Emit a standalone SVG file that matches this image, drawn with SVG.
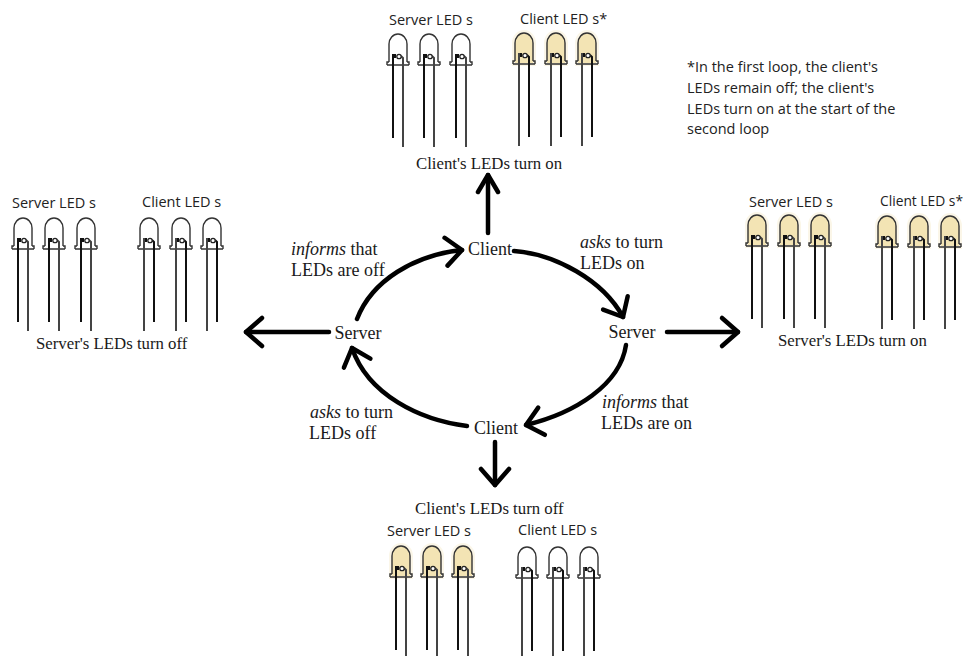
<svg xmlns="http://www.w3.org/2000/svg" width="964" height="656" viewBox="0 0 964 656">
<style>
.t{font-family:"Liberation Serif","Times New Roman",serif;font-size:18px;fill:#1a1a1a}
.s{font-family:"Liberation Serif","Times New Roman",serif;font-size:16.8px;fill:#1a1a1a}
.n{font-family:"Open Sans","Noto Sans",sans-serif;font-size:14.5px;fill:#222}
.a{fill:none;stroke:#000;stroke-width:4.5;stroke-linecap:round;stroke-linejoin:round;marker-end:url(#head)}
.b{fill:none;stroke:#000;stroke-width:4.5;stroke-linecap:round;marker-end:url(#headN)}
.body{fill:none;stroke:#333;stroke-width:1.4}
.lit{fill:#f3e4b4;stroke:none}
.glow{fill:#f3e4b4;opacity:.3;stroke:#f3e4b4;stroke-width:6}
.leg{fill:none;stroke:#111;stroke-width:2}
.leg2{fill:none;stroke:#444;stroke-width:2}
.chip{fill:#fff;stroke:#222;stroke-width:1.3}
</style>
<defs>
<marker id="head" markerUnits="userSpaceOnUse" markerWidth="40" markerHeight="40" refX="20" refY="20" orient="auto" viewBox="0 0 40 40">
<path d="M4 6L20 20L4 34" fill="none" stroke="#000" stroke-width="4.5" stroke-linecap="round" stroke-linejoin="round"/>
</marker>
<marker id="headN" markerUnits="userSpaceOnUse" markerWidth="40" markerHeight="40" refX="20" refY="20" orient="auto" viewBox="0 0 40 40">
<path d="M3 10L20 20L3 30" fill="none" stroke="#000" stroke-width="4.5" stroke-linecap="round" stroke-linejoin="round"/>
</marker>
<g id="dome"><path class="body" d="M-9 28V10A9 10 0 0 1 9 10V28"/><path class="body" d="M-11 31V28H-9M11 31V28H9M-11 31H11"/></g>
<g id="litbase"><path class="glow" d="M-9 30V10A9 10 0 0 1 9 10V30Z"/><path class="lit" d="M-9 30V10A9 10 0 0 1 9 10V30Z"/></g>
<g id="chip"><circle class="chip" cx="1" cy="22.5" r="2.2"/><path class="leg" d="M-3 24V20" stroke-width="1.2"/></g>
<g id="legsA"><path class="leg" d="M-5 104V21H-2"/><path class="leg2" d="M5 113V24L3 22"/><use href="#chip"/></g>
<g id="legsB"><path class="leg2" d="M-5 113V21H-2"/><path class="leg" d="M5 104V24L3 22"/><use href="#chip"/></g>
<g id="offA"><use href="#dome"/><use href="#legsA"/></g>
<g id="offB"><use href="#dome"/><use href="#legsB"/></g>
<g id="onA"><use href="#litbase"/><use href="#dome"/><use href="#legsA"/></g>
<g id="onB"><use href="#litbase"/><use href="#dome"/><use href="#legsB"/></g>
</defs>

<g id="connectors">
<path class="a" d="M514 251C555 254 603 280 623 317"/>
<path class="a" d="M626 345C620 385 575 413 526 425"/>
<path class="a" d="M467 426C420 420 368 395 352 348"/>
<path class="a" d="M357 319C372 280 415 255 462 250"/>
<path class="b" d="M488 233V175"/>
<path class="a" d="M329 332H246"/>
<path class="a" d="M667 332H738"/>
<path class="a" d="M495 442V485"/>
</g>

<g id="node-client-top"><text class="t" x="490" y="255" text-anchor="middle">Client</text></g>
<g id="node-server-right"><text class="t" x="632" y="338" text-anchor="middle">Server</text></g>
<g id="node-client-bottom"><text class="t" x="496" y="434" text-anchor="middle">Client</text></g>
<g id="node-server-left"><text class="t" x="358" y="339" text-anchor="middle">Server</text></g>

<g id="label-asks-on"><text class="t" x="580" y="248"><tspan font-style="italic">asks</tspan> to turn</text><text class="t" x="580" y="269">LEDs on</text></g>
<g id="label-informs-on"><text class="t" x="602" y="408"><tspan font-style="italic">informs</tspan> that</text><text class="t" x="601" y="429">LEDs are on</text></g>
<g id="label-asks-off"><text class="t" x="310" y="418"><tspan font-style="italic">asks</tspan> to turn</text><text class="t" x="309" y="439">LEDs off</text></g>
<g id="label-informs-off"><text class="t" x="291" y="255"><tspan font-style="italic">informs</tspan> that</text><text class="t" x="291" y="276">LEDs are off</text></g>

<g id="note"><text class="n" x="687" y="72">*In the first loop, the client's</text><text class="n" x="687" y="93">LEDs remain off; the client's</text><text class="n" x="687" y="114">LEDs turn on at the start of the</text><text class="n" x="687" y="134">second loop</text></g>

<g id="leds-top">
<text class="n" x="389" y="25">Server LED s</text><text class="n" x="520" y="24">Client LED s*</text>
<use href="#offA" x="398" y="34"/><use href="#offA" x="429" y="34"/><use href="#offA" x="461" y="34"/>
<use href="#onB" x="524" y="33"/><use href="#onB" x="556" y="33"/><use href="#onB" x="587" y="33"/>
<text class="s" x="416" y="169">Client's LEDs turn on</text>
</g>
<g id="leds-right">
<text class="n" x="749" y="207">Server LED s</text><text class="n" x="880" y="206" style="font-size:13.8px">Client LED s*</text>
<use href="#onA" x="757" y="215"/><use href="#onA" x="789" y="215"/><use href="#onA" x="820" y="215"/>
<use href="#onB" x="887" y="216"/><use href="#onB" x="919" y="216"/><use href="#onB" x="950" y="216"/>
<text class="s" x="778" y="346">Server's LEDs turn on</text>
</g>
<g id="leds-left">
<text class="n" x="12" y="208">Server LED s</text><text class="n" x="142" y="207">Client LED s</text>
<use href="#offA" x="23" y="218"/><use href="#offA" x="54" y="218"/><use href="#offA" x="86" y="218"/>
<use href="#offB" x="149" y="218"/><use href="#offB" x="181" y="218"/><use href="#offB" x="212" y="218"/>
<text class="s" x="36" y="349">Server's LEDs turn off</text>
</g>
<g id="leds-bottom">
<text class="s" x="415" y="514">Client's LEDs turn off</text>
<text class="n" x="387" y="536">Server LED s</text><text class="n" x="518" y="535">Client LED s</text>
<use href="#onA" x="401" y="546"/><use href="#onA" x="432" y="546"/><use href="#onA" x="463" y="546"/>
<use href="#offB" x="527" y="547"/><use href="#offB" x="558" y="547"/><use href="#offB" x="589" y="547"/>
</g>
</svg>
